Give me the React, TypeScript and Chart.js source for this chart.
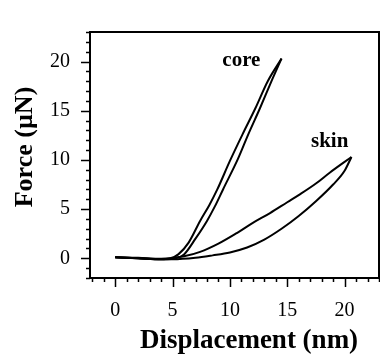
import React, { useEffect, useRef } from "react";
import { Chart, registerables } from "chart.js";

Chart.register(...registerables);

// Core: two branches (loading / unloading)
const coreAX = [0, 2, 4, 4.8, 5.5, 6.4, 7.4, 8.2, 8.9, 10.0, 11.1, 12.2, 13.3, 14.5];
const coreAY = [0.1, 0.05, -0.05, 0.0, 0.4, 1.6, 3.8, 5.4, 7.0, 9.9, 12.6, 15.2, 18.0, 20.3];
const coreBX = [0, 2, 4.5, 5.2, 6.0, 7.0, 8.0, 8.7, 9.4, 10.7, 11.6, 12.6, 13.7, 14.5];
const coreBY = [0.1, 0.0, -0.1, 0.0, 0.4, 2.0, 3.8, 5.3, 7.0, 10.1, 12.6, 15.2, 18.2, 20.3];
// Skin: two branches
const skinAX = [0, 2, 4, 4.8, 6, 7.4, 9, 10.5, 12, 13.5, 15, 16.1, 17.5, 18.7, 20.6];
const skinAY = [0.1, 0.0, -0.1, 0.0, 0.2, 0.66, 1.5, 2.5, 3.6, 4.6, 5.7, 6.5, 7.6, 8.7, 10.3];
const skinBX = [0, 2, 4, 5, 7, 8.5, 10, 11.5, 13, 14.5, 16, 17.5, 19, 20, 20.6];
const skinBY = [0.1, 0.0, -0.1, -0.1, 0.05, 0.3, 0.6, 1.1, 1.9, 3.0, 4.3, 5.8, 7.5, 8.9, 10.3];

const xMin = -2.2;
const xMax = 23;
const yMin = -2;
const yMax = 23;
const xTickValues = [0, 5, 10, 15, 20];
const yTickValues = [0, 5, 10, 15, 20];

const xTitle = "Displacement (nm)";
const yTitle = "Force (\u00b5N)";
const labels = [
  { text: "core", x: 11.0, y: 20.1 },
  { text: "skin", x: 18.7, y: 11.9 },
];

const toPts = (xs: number[], ys: number[]) => xs.map((x, i) => ({ x, y: ys[i] }));

const SERIF = "'Liberation Serif', 'Times New Roman', serif";

const framePlugin = {
  id: "frame",
  afterDraw(chart: any) {
    const { ctx, chartArea } = chart;
    const xs = chart.scales.x;
    const ys = chart.scales.y;
    const { left, right, top, bottom } = chartArea;
    ctx.save();
    ctx.strokeStyle = "#000";
    ctx.lineWidth = 2;
    ctx.strokeRect(left, top, right - left, bottom - top);
    ctx.lineWidth = 1.5;
    ctx.beginPath();
    for (let v = Math.ceil(xMin); v <= Math.floor(xMax); v++) {
      const px = Math.round(xs.getPixelForValue(v)) + 0.5;
      const len = v % 5 === 0 ? 9 : 4;
      ctx.moveTo(px, bottom);
      ctx.lineTo(px, bottom + len);
    }
    for (let v = Math.ceil(yMin); v <= Math.floor(yMax); v++) {
      const py = Math.round(ys.getPixelForValue(v)) + 0.5;
      const len = v % 5 === 0 ? 9 : 4;
      ctx.moveTo(left, py);
      ctx.lineTo(left - len, py);
    }
    ctx.stroke();

    ctx.fillStyle = "#000";
    ctx.font = `bold 21px ${SERIF}`;
    ctx.textAlign = "center";
    ctx.textBaseline = "middle";
    labels.forEach((l) => {
      ctx.fillText(l.text, xs.getPixelForValue(l.x), ys.getPixelForValue(l.y));
    });

    ctx.font = `bold 27px ${SERIF}`;
    ctx.textBaseline = "alphabetic";
    ctx.fillText(xTitle, 249, 348);

    ctx.font = `bold 26px ${SERIF}`;
    ctx.translate(32, 147);
    ctx.rotate(-Math.PI / 2);
    ctx.fillText(yTitle, 0, 0);
    ctx.restore();
  },
};

export default function App() {
  const ref = useRef<HTMLCanvasElement | null>(null);
  useEffect(() => {
    document.body.style.margin = "0";
    const ds = (xs: number[], ys: number[]) => ({
      data: toPts(xs, ys),
      borderColor: "#000",
      borderWidth: 2,
      pointRadius: 0,
      cubicInterpolationMode: "monotone" as const,
      fill: false,
    });
    const chart = new Chart(ref.current as HTMLCanvasElement, {
      type: "line",
      data: {
        datasets: [ds(coreAX, coreAY), ds(coreBX, coreBY), ds(skinAX, skinAY), ds(skinBX, skinBY)],
      },
      options: {
        animation: false,
        responsive: false,
        devicePixelRatio: 1,
        layout: { padding: { top: 14, right: 1, left: 0, bottom: 0 } },
        plugins: { legend: { display: false }, tooltip: { enabled: false } },
        scales: {
          x: {
            type: "linear",
            min: xMin,
            max: xMax,
            grid: { display: false, drawTicks: false },
            border: { display: false },
            afterBuildTicks: (s: any) => {
              s.ticks = xTickValues.map((value) => ({ value }));
            },
            ticks: {
              padding: 21,
              color: "#000",
              maxRotation: 0,
              autoSkip: false,
              font: { family: SERIF, size: 20 },
            },
            afterFit: (s: any) => {
              s.height = 78;
            },
          },
          y: {
            type: "linear",
            min: yMin,
            max: yMax,
            grid: { display: false, drawTicks: false },
            border: { display: false },
            afterBuildTicks: (s: any) => {
              s.ticks = yTickValues.map((value) => ({ value }));
            },
            ticks: {
              padding: 20,
              color: "#000",
              autoSkip: false,
              font: { family: SERIF, size: 20 },
            },
            afterFit: (s: any) => {
              s.width = 90;
            },
          },
        },
      },
      plugins: [framePlugin],
    });
    return () => chart.destroy();
  }, []);
  return (
    <div style={{ width: 380, height: 356 }}>
      <canvas ref={ref} width={380} height={356} />
    </div>
  );
}
